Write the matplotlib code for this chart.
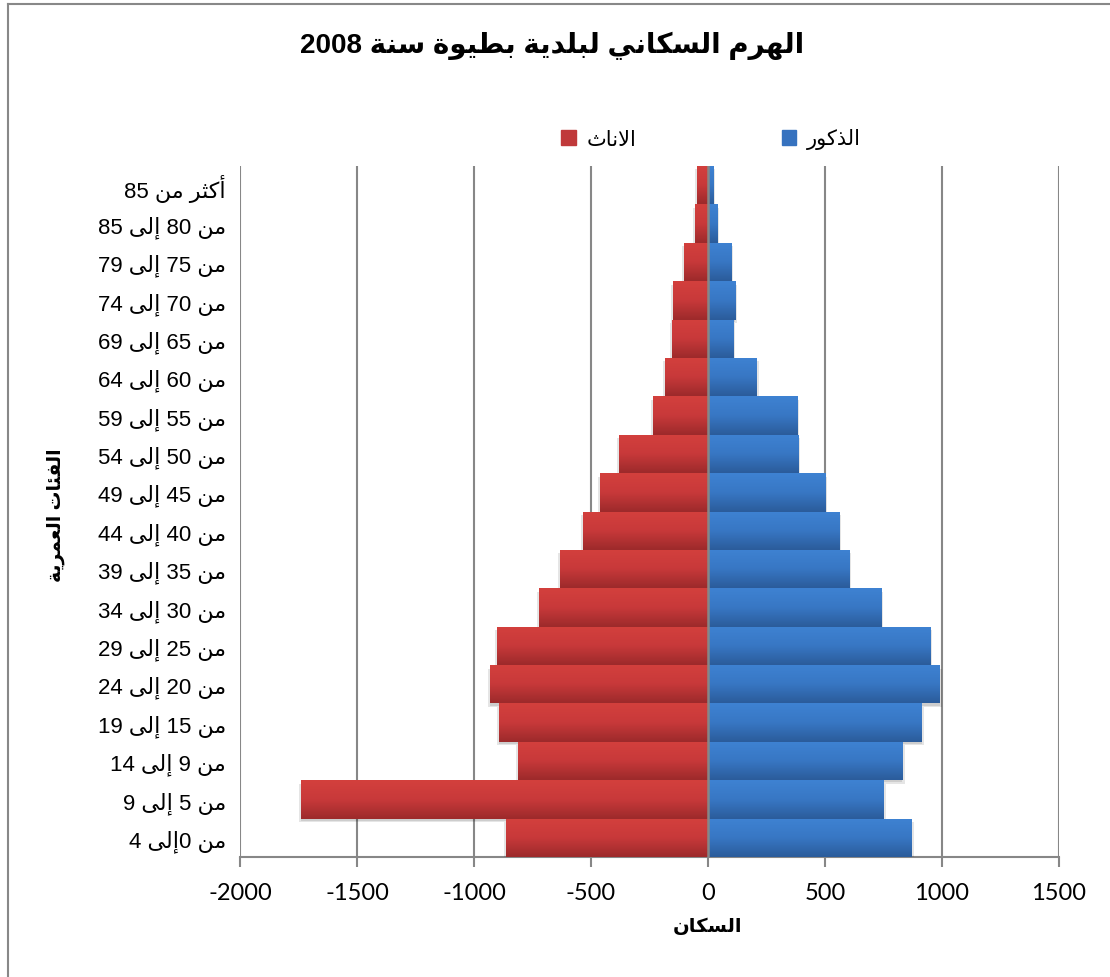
import re
import numpy as np
import matplotlib
matplotlib.use("Agg")
import matplotlib.pyplot as plt
import matplotlib.patheffects as pe
from matplotlib.colors import LinearSegmentedColormap
from matplotlib.lines import Line2D

plt.rcParams['font.family'] = ['Liberation Sans', 'DejaVu Sans']

# age groups, top to bottom
age_groups = ["أكثر من 85", "من 80 إلى 85", "من 75 إلى 79", "من 70 إلى 74",
              "من 65 إلى 69", "من 60 إلى 64", "من 55 إلى 59", "من 50 إلى 54",
              "من 45 إلى 49", "من 40 إلى 44", "من 35 إلى 39", "من 30 إلى 34",
              "من 25 إلى 29", "من 20 إلى 24", "من 15 إلى 19", "من 9 إلى 14",
              "من 5 إلى 9", "من 0إلى 4"]
males = [23, 40, 100, 117, 108, 207, 382, 386, 501, 561, 604, 741,
         950, 990, 913, 831, 750, 870]
females = [-46, -54, -101, -148, -152, -182, -234, -379, -460, -533, -631, -721,
           -900, -933, -893, -813, -1739, -863]
x_ticks = [-2000, -1500, -1000, -500, 0, 500, 1000, 1500]

title = "الهرم السكاني لبلدية بطيوة سنة 2008"
male_label = "الذكور"
female_label = "الاناث"
x_title = "السكان"
y_title = "الفئات العمرية"

# --- minimal arabic shaping (presentation forms) + rtl ordering ---
# (isolated, final, initial, medial)
FORMS = {
    'ا': ('\uFE8D', '\uFE8E', None, None),
    'أ': ('\uFE83', '\uFE84', None, None),
    'إ': ('\uFE87', '\uFE88', None, None),
    'ب': ('\uFE8F', '\uFE90', '\uFE91', '\uFE92'),
    'ة': ('\uFE93', '\uFE94', None, None),
    'ت': ('\uFE95', '\uFE96', '\uFE97', '\uFE98'),
    'ث': ('\uFE99', '\uFE9A', '\uFE9B', '\uFE9C'),
    'د': ('\uFEA9', '\uFEAA', None, None),
    'ذ': ('\uFEAB', '\uFEAC', None, None),
    'ر': ('\uFEAD', '\uFEAE', None, None),
    'س': ('\uFEB1', '\uFEB2', '\uFEB3', '\uFEB4'),
    'ط': ('\uFEC1', '\uFEC2', '\uFEC3', '\uFEC4'),
    'ع': ('\uFEC9', '\uFECA', '\uFECB', '\uFECC'),
    'ف': ('\uFED1', '\uFED2', '\uFED3', '\uFED4'),
    'ك': ('\uFED9', '\uFEDA', '\uFEDB', '\uFEDC'),
    'ل': ('\uFEDD', '\uFEDE', '\uFEDF', '\uFEE0'),
    'م': ('\uFEE1', '\uFEE2', '\uFEE3', '\uFEE4'),
    'ن': ('\uFEE5', '\uFEE6', '\uFEE7', '\uFEE8'),
    'ه': ('\uFEE9', '\uFEEA', '\uFEEB', '\uFEEC'),
    'و': ('\uFEED', '\uFEEE', None, None),
    'ى': ('\uFEEF', '\uFEF0', '\uFBE8', '\uFBE9'),
    'ي': ('\uFEF1', '\uFEF2', '\uFEF3', '\uFEF4'),
    'ئ': ('\uFE89', '\uFE8A', '\uFE8B', '\uFE8C'),
}
LAM_ALEF = {
    'ا': ('\uFEFB', '\uFEFC', None, None),
    'أ': ('\uFEF7', '\uFEF8', None, None),
    'إ': ('\uFEF9', '\uFEFA', None, None),
}


def shape(text):
    units = []
    i = 0
    while i < len(text):
        c = text[i]
        if c == 'ل' and i + 1 < len(text) and text[i + 1] in LAM_ALEF:
            units.append(LAM_ALEF[text[i + 1]])
            i += 2
            continue
        units.append(FORMS.get(c, c))
        i += 1
    out = []
    for k, u in enumerate(units):
        if isinstance(u, str):
            out.append(u)
            continue
        prev = units[k - 1] if k > 0 else None
        nxt = units[k + 1] if k + 1 < len(units) else None
        join_prev = isinstance(prev, tuple) and prev[2] is not None
        join_next = u[2] is not None and isinstance(nxt, tuple)
        if join_prev and join_next:
            out.append(u[3])
        elif join_prev:
            out.append(u[1])
        elif join_next:
            out.append(u[2])
        else:
            out.append(u[0])
    return ''.join(out)


def ar(text):
    runs = re.split(r'(\d+)', shape(text))
    runs = [r if r.isdigit() else r[::-1] for r in runs if r]
    return ''.join(reversed(runs))


fig = plt.figure(figsize=(11.10, 9.78), dpi=100)
ax = fig.add_axes([240 / 1110, 120 / 978, 819 / 1110, 691 / 978])

pos = np.arange(len(age_groups))[::-1]

red_cmap = LinearSegmentedColormap.from_list("red", ["#d3403d", "#c8393a", "#9d2a2b"])
blue_cmap = LinearSegmentedColormap.from_list("blue", ["#3e82d2", "#3877c4", "#2b5c9b"])
grad = np.linspace(0, 1, 64).reshape(-1, 1)

RED = "#c0393a"
BLUE = "#3672bf"

for vals, col, cmap, dx in [(females, RED, red_cmap, -1.5),
                            (males, BLUE, blue_cmap, 1.5)]:
    bars = ax.barh(pos, vals, height=1.0, color=col, zorder=3,
                   path_effects=[pe.SimplePatchShadow(offset=(dx, -2.5), shadow_rgbFace="#000000", alpha=0.10),
                                 pe.SimplePatchShadow(offset=(0, -1.5), shadow_rgbFace="#000000", alpha=0.10),
                                 pe.Normal()])
    # vertical shading on each bar, light at top and dark at bottom
    for b in bars:
        x0, y0, w, h = b.get_x(), b.get_y(), b.get_width(), b.get_height()
        im = ax.imshow(grad, extent=[x0, x0 + w, y0, y0 + h], aspect='auto',
                       origin='upper', cmap=cmap, zorder=4, interpolation='bilinear')
        im.set_clip_path(b)

ax.set_xlim(-2000, 1500)
ax.set_ylim(-0.5, len(age_groups) - 0.5)
ax.set_xticks(x_ticks)
ax.set_xticklabels([str(t) for t in x_ticks], family='Lato', fontsize=17)
ax.set_yticks(pos)
ax.set_yticklabels([ar(a) for a in age_groups], fontsize=16)

ax.grid(axis='x', color='#878787', lw=1.5, zorder=1)
ax.set_axisbelow(True)
ax.axvline(0, color='#878787', lw=1.8, zorder=5)

for s in ['top', 'right', 'left']:
    ax.spines[s].set_visible(False)
ax.spines['bottom'].set_color('#878787')
ax.spines['bottom'].set_linewidth(1.5)
ax.tick_params(axis='x', length=7, width=1.5, color='#878787', pad=11)
ax.tick_params(axis='y', length=0, pad=10)

ax.set_xlabel(ar(x_title), fontsize=14, fontweight='bold')
ax.xaxis.set_label_coords((708 - 240) / 819, -0.087)
ax.set_ylabel(ar(y_title), fontsize=13.5, fontweight='bold')
ax.yaxis.set_label_coords(-0.214, 0.496)

fig.text(552 / 1110, 1 - 46 / 978, ar(title), fontsize=20, fontweight='bold',
         ha='center', va='center')

# legend: female entry first, then male
handles = [plt.Rectangle((0, 0), 1, 1, color=RED),
           plt.Rectangle((0, 0), 1, 1, color=BLUE)]
fig.legend(handles, [ar(female_label), ar(male_label)], loc='center',
           bbox_to_anchor=(711 / 1110, 1 - 140 / 978), ncol=2, frameon=False,
           fontsize=15, handlelength=0.7, handleheight=0.7, handletextpad=0.5,
           columnspacing=7)

# chart frame edges
fig.add_artist(Line2D([8 / 1110, 8 / 1110], [0, 1 - 5 / 978], color='#888888', lw=1.5))
fig.add_artist(Line2D([8 / 1110, 1], [1 - 5 / 978, 1 - 5 / 978], color='#888888', lw=1.5))

fig.savefig("out.png", dpi=100)
